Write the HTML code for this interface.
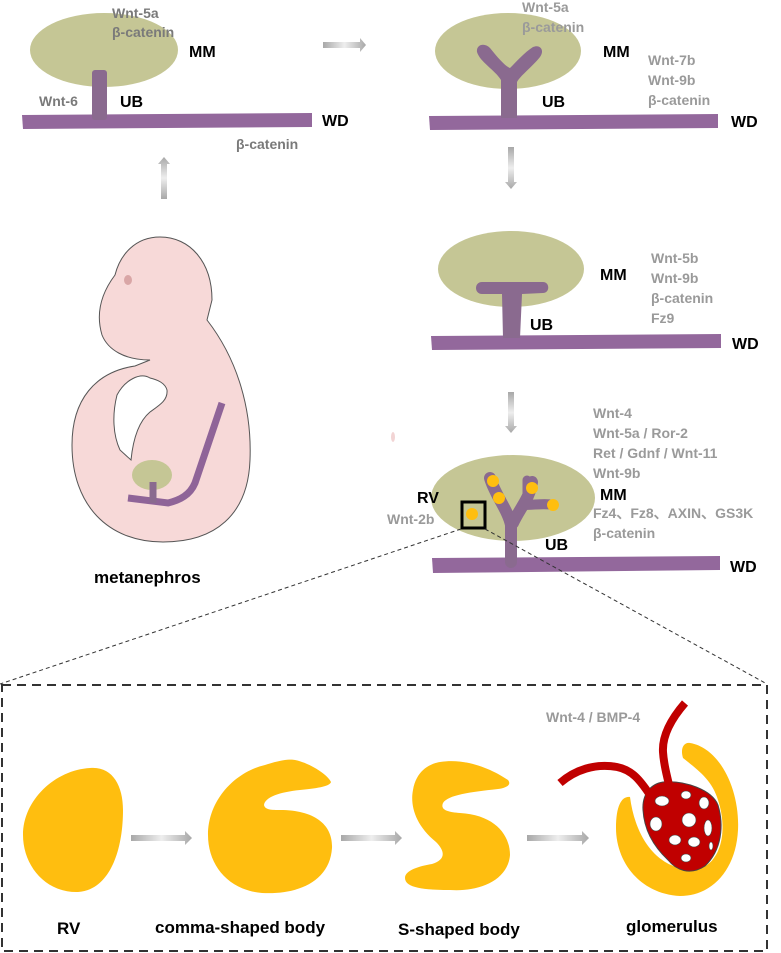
<!DOCTYPE html>
<html><head><meta charset="utf-8"><style>
html,body{margin:0;padding:0;background:#fff;}
svg{display:block;}
text{font-family:"Liberation Sans",Arial,sans-serif;font-weight:bold;}
.g{fill:#9a9a9a;font-size:14px;}
.g1{fill:#7a7a7a;font-size:14px;}
.b{fill:#000;font-size:16px;}
.l{fill:#000;font-size:17px;}
</style></head><body>
<svg width="781" height="953" viewBox="0 0 781 953" xmlns="http://www.w3.org/2000/svg">
<defs>
<linearGradient id="ah" x1="0" x2="1" y1="0" y2="0"><stop offset="0" stop-color="#a8a8a8"/><stop offset="0.5" stop-color="#eee"/><stop offset="1" stop-color="#a8a8a8"/></linearGradient>
<linearGradient id="av" x1="0" x2="0" y1="0" y2="1"><stop offset="0" stop-color="#a8a8a8"/><stop offset="0.5" stop-color="#eee"/><stop offset="1" stop-color="#a8a8a8"/></linearGradient>
</defs>

<!-- Stage 1 -->
<ellipse cx="104" cy="50" rx="74" ry="37" fill="#c5c695"/>
<path d="M22,115 L312,113 L312,127 L23,129 Z" fill="#93689c"/>
<rect x="92" y="70" width="15" height="50" rx="3" fill="#8a6a8f"/>
<text class="g1" x="112" y="18">Wnt-5a</text>
<text class="g1" x="112" y="37">β-catenin</text>
<text class="b" x="189" y="57">MM</text>
<text class="g1" x="39" y="106">Wnt-6</text>
<text class="b" x="120" y="107">UB</text>
<text class="b" x="322" y="126">WD</text>
<text class="g1" x="236" y="149">β-catenin</text>
<path d="M323,42 L360,42 L360,38 L366,45 L360,52 L360,48 L323,48 Z" fill="url(#ah)"/>
<path d="M161,199 L161,164 L158,164 L164,157 L170,164 L167,164 L167,199 Z" fill="url(#av)"/>

<!-- Stage 2 -->
<ellipse cx="508" cy="51" rx="73" ry="38" fill="#c5c695"/>
<path d="M429,116 L718,114 L718,128 L430,130 Z" fill="#93689c"/>
<path d="M501,118 L501,80 C495,70 480,62 477,52 C476,45 484,42 490,48 C498,58 505,66 510,68 C516,62 525,52 533,47 C540,44 545,50 540,57 C532,67 520,76 517,82 L517,118 Z" fill="#8a6a8f"/>
<text class="g" x="522" y="12">Wnt-5a</text>
<text class="g" x="522" y="32">β-catenin</text>
<text class="b" x="603" y="57">MM</text>
<text class="g" x="648" y="65">Wnt-7b</text>
<text class="g" x="648" y="85">Wnt-9b</text>
<text class="g" x="648" y="105">β-catenin</text>
<text class="b" x="542" y="107">UB</text>
<text class="b" x="731" y="127">WD</text>
<path d="M508,147 L508,182 L505,182 L511,189 L517,182 L514,182 L514,147 Z" fill="url(#av)"/>

<!-- Stage 3 -->
<ellipse cx="511" cy="269" rx="73" ry="38" fill="#c5c695"/>
<path d="M431,336 L721,334 L721,348 L432,350 Z" fill="#93689c"/>
<path d="M503,338 L502,294 L482,294 C474,294 474,282 482,282 L543,282 C550,282 550,293 543,293 L522,294 L520,338 Z" fill="#8a6a8f"/>
<text class="b" x="600" y="280">MM</text>
<text class="g" x="651" y="263">Wnt-5b</text>
<text class="g" x="651" y="283">Wnt-9b</text>
<text class="g" x="651" y="303">β-catenin</text>
<text class="g" x="651" y="323">Fz9</text>
<text class="b" x="530" y="330">UB</text>
<text class="b" x="732" y="349">WD</text>
<path d="M508,392 L508,426 L505,426 L511,433 L517,426 L514,426 L514,392 Z" fill="url(#av)"/>
<ellipse cx="393" cy="437" rx="2" ry="5" fill="#f2d4d4"/>

<!-- Stage 4 -->
<ellipse cx="513" cy="498" rx="82" ry="43" fill="#c5c695"/>
<path d="M432,558 L720,556 L720,570 L433,573 Z" fill="#93689c"/>
<g stroke="#8a6a8f" stroke-linecap="round" fill="none">
<path d="M511,562 L511,525 C508,510 495,495 490,478" stroke-width="12"/>
<path d="M497,495 L500,500" stroke-width="10"/>
<path d="M513,523 C520,508 530,498 532,482" stroke-width="12"/>
<path d="M522,505 C535,505 545,503 553,505" stroke-width="10"/>
<path d="M527,495 L527,480" stroke-width="9"/>
</g>
<g fill="#ffbe0f">
<circle cx="493" cy="481" r="6"/>
<circle cx="499" cy="498" r="6"/>
<circle cx="532" cy="488" r="6"/>
<circle cx="553" cy="505" r="6"/>
<circle cx="472" cy="514" r="6"/>
</g>
<rect x="462" y="502" width="23" height="26" fill="none" stroke="#000" stroke-width="3"/>
<text class="b" x="417" y="503">RV</text>
<text class="g" x="387" y="524">Wnt-2b</text>
<text class="g" x="593" y="418">Wnt-4</text>
<text class="g" x="593" y="438">Wnt-5a / Ror-2</text>
<text class="g" x="593" y="458">Ret / Gdnf / Wnt-11</text>
<text class="g" x="593" y="478">Wnt-9b</text>
<text class="b" x="600" y="500">MM</text>
<text class="g" x="593" y="518">Fz4、Fz8、AXIN、GS3K</text>
<text class="g" x="593" y="538">β-catenin</text>
<text class="b" x="545" y="550">UB</text>
<text class="b" x="730" y="572">WD</text>

<g stroke="#333" stroke-width="1" stroke-dasharray="4,3" fill="none">
<line x1="461" y1="529" x2="0" y2="684"/>
<line x1="485" y1="529" x2="767" y2="684"/>
</g>
<rect x="2" y="685" width="765" height="266" fill="none" stroke="#333" stroke-width="2" stroke-dasharray="9,6"/>

<!-- Embryo -->
<path d="M160,237 C190,237 212,262 212,300 L207,320 C238,360 252,410 250,460 C248,515 215,542 163,542 C108,542 72,505 72,445 C72,400 95,372 135,366 L150,360 C125,360 108,350 102,335 C96,315 100,295 115,275 C120,255 135,237 160,237 Z" fill="#f7d9d8" stroke="#555" stroke-width="1"/>
<path d="M150,378 C140,372 125,380 117,395 C112,415 113,435 120,450 L131,460 C133,440 138,422 150,412 C160,405 168,400 167,390 C165,383 158,380 150,378 Z" fill="#fff" stroke="#555" stroke-width="1"/>
<ellipse cx="128" cy="280" rx="4" ry="5" fill="#d9a6a6"/>
<ellipse cx="152" cy="475" rx="20" ry="15" fill="#c5c695"/>
<path d="M222,403 L195,483 C190,495 180,500 168,503 L128,498" stroke="#8f6498" stroke-width="7" fill="none"/>
<line x1="153" y1="482" x2="153" y2="503" stroke="#8a6a8f" stroke-width="7"/>
<text class="l" x="94" y="583">metanephros</text>

<!-- Bottom sequence -->
<path d="M90,768 C112,766 123,785 123,810 C123,850 110,890 78,892 C45,893 23,865 23,835 C23,800 55,770 90,768 Z" fill="#ffbe0f"/>
<path d="M131,835 L185,835 L185,831 L192,838 L185,845 L185,841 L131,841 Z" fill="url(#ah)"/>
<path d="M295,760 C310,763 328,775 331,782 C330,786 320,788 300,790 C280,792 265,797 264,805 C265,810 272,810 280,810 C315,810 333,825 332,848 C330,880 300,895 262,893 C228,890 208,865 208,835 C208,800 235,772 265,765 C280,760 290,759 295,760 Z" fill="#ffbe0f"/>
<path d="M341,835 L395,835 L395,831 L402,838 L395,845 L395,841 L341,841 Z" fill="url(#ah)"/>
<path d="M440,762 C465,758 490,768 508,780 C512,785 506,788 498,789 C470,792 448,795 443,803 C440,810 448,812 460,813 C495,815 510,835 510,855 C508,880 480,892 450,890 C425,890 405,888 405,878 C405,870 420,866 432,864 C445,860 446,852 436,842 C415,825 410,805 413,790 C416,772 428,764 440,762 Z" fill="#ffbe0f"/>
<path d="M527,835 L582,835 L582,831 L589,838 L582,845 L582,841 L527,841 Z" fill="url(#ah)"/>
<path d="M690,743 C720,748 740,790 738,830 C736,870 712,896 680,896 C640,894 616,862 616,828 C616,805 622,796 630,797 C635,835 655,870 695,870 C722,865 728,830 718,800 C712,780 698,770 683,758 C680,748 684,742 690,743 Z" fill="#ffbe0f"/>
<path d="M663,782 C685,780 712,790 718,805 C724,825 722,850 705,866 C690,876 676,870 668,860 C652,845 644,828 643,810 C642,795 650,784 663,782 Z" fill="#c00000" stroke="#444" stroke-width="1"/>
<path d="M685,703 C672,718 662,735 663,752 C664,768 668,778 670,790" stroke="#c00000" stroke-width="8" fill="none"/>
<path d="M560,783 C575,770 595,763 617,767 C632,770 640,780 650,795" stroke="#c00000" stroke-width="8" fill="none"/>
<g fill="#fff" stroke="#444" stroke-width="0.6">
<ellipse cx="662" cy="801" rx="7" ry="5"/>
<ellipse cx="686" cy="795" rx="5" ry="4"/>
<ellipse cx="689" cy="820" rx="7" ry="7"/>
<ellipse cx="704" cy="803" rx="5" ry="6"/>
<ellipse cx="708" cy="828" rx="4" ry="8"/>
<ellipse cx="656" cy="824" rx="6" ry="7"/>
<ellipse cx="675" cy="840" rx="6" ry="5"/>
<ellipse cx="694" cy="842" rx="6" ry="5"/>
<ellipse cx="686" cy="858" rx="5" ry="4"/>
<ellipse cx="711" cy="846" rx="2" ry="4"/>
</g>
<text class="g" x="546" y="722">Wnt-4 / BMP-4</text>
<text class="l" x="57" y="934">RV</text>
<text class="l" x="155" y="933">comma-shaped body</text>
<text class="l" x="398" y="935">S-shaped body</text>
<text class="l" x="626" y="932">glomerulus</text>
</svg>
</body></html>
